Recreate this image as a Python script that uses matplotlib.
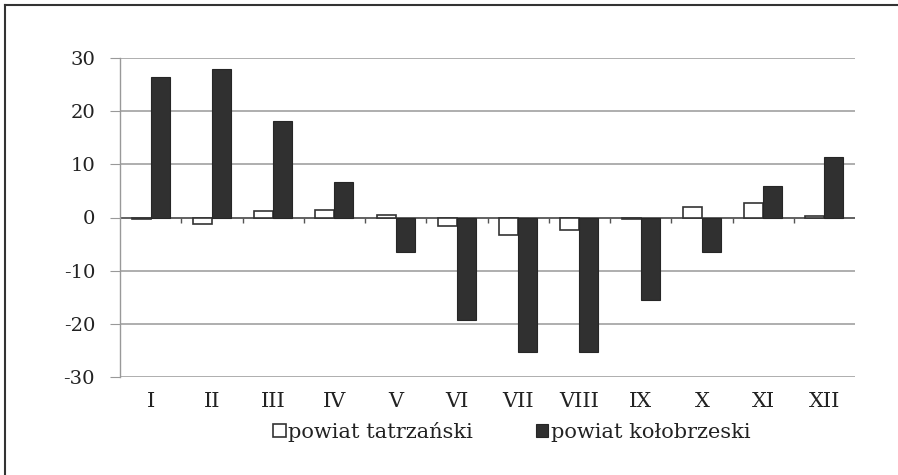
import numpy as np
import matplotlib
matplotlib.use('Agg')
import matplotlib.pyplot as plt
from matplotlib.lines import Line2D

months = ['I', 'II', 'III', 'IV', 'V', 'VI', 'VII', 'VIII', 'IX', 'X', 'XI', 'XII']
tatrzanski = [-0.2, -1.2, 1.2, 1.4, 0.4, -1.6, -3.3, -2.4, -0.2, 1.9, 2.7, 0.3]
kolobrzeski = [26.4, 27.9, 18.1, 6.7, -6.5, -19.3, -25.3, -25.3, -15.5, -6.4, 5.9, 11.4]
yticks = [-30, -20, -10, 0, 10, 20, 30]

plt.rcParams['font.family'] = ['DejaVu Serif']

fig = plt.figure(figsize=(8.98, 4.75), dpi=100)
ax = fig.add_axes([120 / 898, 1 - 377 / 475, 735 / 898, 319 / 475])

x = np.arange(len(months))
w = 0.31
ax.bar(x - w / 2, tatrzanski, w, color='white', edgecolor='#333333', linewidth=1.2,
       label='powiat tatrzański', zorder=3)
ax.bar(x + w / 2, kolobrzeski, w, color='#303030', edgecolor='#262626', linewidth=0.8,
       label='powiat kołobrzeski', zorder=3)

ax.set_xlim(-0.5, len(months) - 0.5)
ax.set_ylim(-30, 30)
ax.set_yticks(yticks)
ax.set_yticklabels([str(v) for v in yticks])
ax.set_xticks(x)
ax.set_xticklabels(months)

# zero line with small category-boundary ticks
ax.axhline(0, color='#555555', linewidth=1.2, zorder=2)
ax.vlines(np.arange(0.5, len(months) - 0.5), -1.0, 0, color='#555555', linewidth=1.0, zorder=2)

ax.grid(axis='y', color='#999999', linewidth=1.1, zorder=0)
for s in ['top', 'right', 'bottom']:
    ax.spines[s].set_visible(False)
ax.spines['left'].set_color('#999999')
ax.spines['left'].set_linewidth(1.0)
ax.tick_params(axis='y', length=7, color='#999999', pad=11, labelsize=14, labelcolor='#222222')
ax.tick_params(axis='x', length=0, pad=11, labelsize=15, labelcolor='#222222')

fig.legend(loc='center', bbox_to_anchor=(512 / 898, 1 - 432 / 475), ncol=2, frameon=False,
           handlelength=0.6, handleheight=0.6, handletextpad=0.12, columnspacing=3.0,
           prop={'size': 15}, labelcolor='#222222')

# frame (left and top edges only)
fig.add_artist(Line2D([4.5 / 898, 4.5 / 898], [0, 1 - 4.5 / 475], transform=fig.transFigure,
                      color='#333333', linewidth=1.5))
fig.add_artist(Line2D([4.5 / 898, 1], [1 - 4.5 / 475, 1 - 4.5 / 475], transform=fig.transFigure,
                      color='#333333', linewidth=1.5))

fig.savefig('out.png', dpi=100)
